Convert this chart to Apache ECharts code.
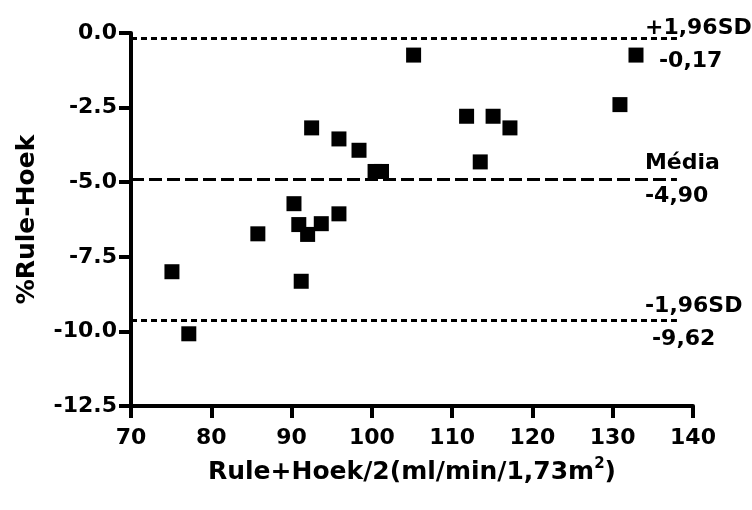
<!DOCTYPE html>
<html>
<head>
<meta charset="utf-8">
<script src="https://cdn.jsdelivr.net/npm/echarts@6/dist/echarts.min.js"></script>
<style>
  html, body { margin: 0; padding: 0; background: #fff; }
  #chart { width: 752px; height: 510px; }
</style>
</head>
<body>
<div id="chart"></div>
<script>
// Bland-Altman data: mean of the two methods vs. % difference
const meanValues = [75.1, 77.2, 85.8, 90.3, 90.9, 92.0, 93.7, 95.9, 91.2, 92.5, 95.9,
                    98.4, 100.4, 101.2, 105.2, 111.8, 113.5, 115.1, 117.2, 130.9, 132.9];
const diffValues = [-8.00, -10.08, -6.73, -5.72, -6.42, -6.75, -6.39, -6.06, -8.32, -3.18, -3.55,
                    -3.93, -4.64, -4.64, -0.74, -2.79, -4.32, -2.79, -3.18, -2.40, -0.74];

// Limits of agreement and bias
const limitNames = ['+1,96SD', 'Média', '-1,96SD'];
const limitValues = [-0.17, -4.90, -9.62];
const limitLineTypes = ['dotted', 'dashed', 'dotted'];

const xTicks = [70, 80, 90, 100, 110, 120, 130, 140];
const yTicks = [0.0, -2.5, -5.0, -7.5, -10.0, -12.5];

const FONT = 'DejaVu Sans';
const points = meanValues.map((x, i) => [x, diffValues[i]]);

const dashFor = { dotted: [6, 4], dashed: [13, 5] };
// label block padding: [top, right, bottom, left]; value line indent
const labelPad = [[14, 0, 0, 0], [2, 0, 0, 0], [5, 0, 0, 0]];
const valuePad = [14, 0, 7];

const markLineData = limitValues.map((v, i) => [
  {
    coord: [xTicks[0], v],
    lineStyle: { color: '#000', width: 3, type: dashFor[limitLineTypes[i]] },
    label: {
      show: true,
      position: 'end',
      distance: -32,
      padding: labelPad[i],
      formatter: '{n|' + limitNames[i] + '}\n{v|' + v.toFixed(2).replace('.', ',') + '}',
      rich: {
        n: { fontFamily: FONT, fontWeight: 'bold', fontSize: 22, color: '#000', lineHeight: 33 },
        v: { fontFamily: FONT, fontWeight: 'bold', fontSize: 22, color: '#000', lineHeight: 33,
             padding: [0, 0, 0, valuePad[i]] }
      }
    }
  },
  { coord: [138, v] }
]);

const chart = echarts.init(document.getElementById('chart'), null, { renderer: 'canvas' });

chart.setOption({
  animation: false,
  backgroundColor: '#fff',
  grid: { left: 131, right: 59, top: 33, bottom: 104, containLabel: false },
  xAxis: {
    type: 'value',
    min: xTicks[0],
    max: xTicks[xTicks.length - 1],
    interval: 10,
    axisLine: { show: true, onZero: false, lineStyle: { color: '#000', width: 4 } },
    axisTick: { show: true, inside: false, length: 12, lineStyle: { color: '#000', width: 4 } },
    splitLine: { show: false },
    axisLabel: { color: '#000', fontFamily: FONT, fontWeight: 'bold', fontSize: 22, margin: 21 },
    name: '{t|Rule+Hoek/2(ml/min/1,73m}{s|2}{t|)}',
    nameLocation: 'middle',
    nameGap: 51,
    nameTextStyle: {
      rich: {
        t: { fontFamily: FONT, fontWeight: 'bold', fontSize: 25, color: '#000', lineHeight: 30 },
        s: { fontFamily: FONT, fontWeight: 'bold', fontSize: 15, color: '#000', lineHeight: 15,
             verticalAlign: 'top' }
      }
    }
  },
  yAxis: {
    type: 'value',
    min: yTicks[yTicks.length - 1],
    max: yTicks[0],
    interval: 2.5,
    axisLine: { show: true, onZero: false, lineStyle: { color: '#000', width: 4 } },
    axisTick: { show: true, inside: false, length: 12, lineStyle: { color: '#000', width: 4 } },
    splitLine: { show: false },
    axisLabel: {
      color: '#000', fontFamily: FONT, fontWeight: 'bold', fontSize: 22, margin: 14,
      formatter: v => v.toFixed(1)
    },
    name: '%Rule-Hoek',
    nameLocation: 'middle',
    nameGap: 91,
    nameTextStyle: { fontFamily: FONT, fontWeight: 'bold', fontSize: 25, color: '#000' }
  },
  series: [{
    type: 'scatter',
    data: points,
    symbol: 'rect',
    symbolSize: 15,
    itemStyle: { color: '#000', opacity: 1 },
    markLine: {
      silent: true,
      symbol: ['none', 'none'],
      animation: false,
      data: markLineData
    }
  }]
});
</script>
</body>
</html>
